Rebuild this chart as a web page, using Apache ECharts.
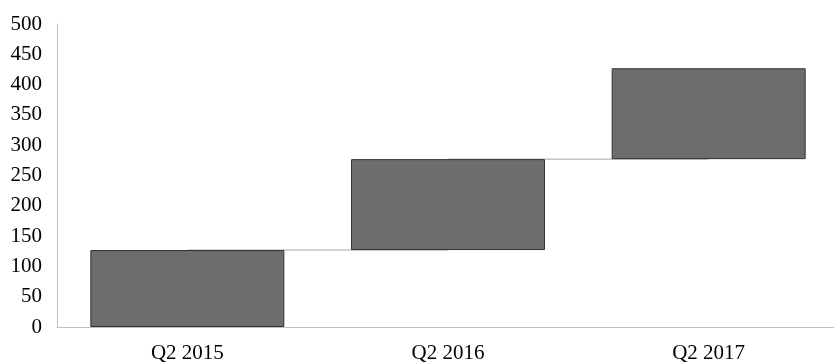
<!DOCTYPE html>
<html>
<head>
<meta charset="utf-8">
<script src="https://cdn.jsdelivr.net/npm/echarts@6/dist/echarts.min.js"></script>
<style>
  html, body { margin: 0; padding: 0; background: #fff; }
  #chart { width: 834px; height: 363px; }
</style>
</head>
<body>
<div id="chart"></div>
<script>
// waterfall data
var categories = ['Q2 2015', 'Q2 2016', 'Q2 2017'];
var startValues = [0, 127, 277];
var endValues = [127, 277, 427];
var yTicks = { min: 0, max: 500, interval: 50 };

var baseData = startValues.slice();
var deltaData = endValues.map(function (v, i) { return v - startValues[i]; });
var connectorData = [];
for (var i = 0; i < endValues.length - 1; i++) {
	connectorData.push([i, endValues[i]]);
}

var chart = echarts.init(document.getElementById('chart'));
var fontFamily = '"Liberation Serif", "DejaVu Serif", serif';

var option = {
	animation : false,
	grid : {
		left : 57,
		width : 782,
		top : 24,
		bottom : 36,
		containLabel : false,
		outerBoundsMode : 'none'
	},
	xAxis : {
		type : 'category',
		data : categories,
		axisLine : { lineStyle : { color : '#bfbfbf', width : 1 } },
		axisTick : { show : false },
		axisLabel : {
			color : '#000',
			fontFamily : fontFamily,
			fontSize : 21,
			margin : 16
		}
	},
	yAxis : {
		type : 'value',
		min : yTicks.min,
		max : yTicks.max,
		interval : yTicks.interval,
		axisLine : { show : true, lineStyle : { color : '#bfbfbf', width : 1 } },
		axisTick : { show : false },
		splitLine : { show : false },
		axisLabel : {
			color : '#000',
			fontFamily : fontFamily,
			fontSize : 21,
			margin : 15
		}
	},
	series : [ {
		// 连接线，放在柱子下面
		type : 'custom',
		z : 1,
		data : connectorData,
		renderItem : function (params, api) {
			var p1 = api.coord([api.value(0), api.value(1)]);
			var p2 = api.coord([api.value(0) + 1, api.value(1)]);
			return {
				type : 'line',
				shape : { x1 : p1[0], y1 : p1[1], x2 : p2[0], y2 : p2[1] },
				style : { stroke : '#a6a6a6', lineWidth : 1 }
			};
		}
	}, {
		name : 'base',
		type : 'bar',
		stack : 'wf',
		z : 2,
		barWidth : 194,
		itemStyle : { color : 'transparent' },
		data : baseData
	}, {
		name : 'value',
		type : 'bar',
		stack : 'wf',
		z : 3,
		barWidth : 194,
		itemStyle : {
			color : '#6d6d6d',
			borderColor : '#333333',
			borderWidth : 1
		},
		data : deltaData
	} ]
};

chart.setOption(option);
</script>
</body>
</html>
